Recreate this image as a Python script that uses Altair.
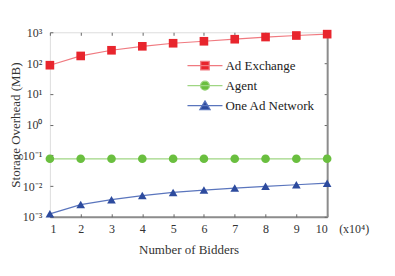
import altair as alt
import pandas as pd

bidders = [1, 2, 3, 4, 5, 6, 7, 8, 9, 10]
ad_exchange = [85, 170, 260, 350, 440, 510, 595, 700, 785, 870]
agent = [0.077] * 10
one_ad_network = [0.00125, 0.0025, 0.0036, 0.0049, 0.0062, 0.0074, 0.0086, 0.0098, 0.011, 0.0124]
series_names = ["Ad Exchange", "Agent", "One Ad Network"]
y_ticks = [1e-3, 1e-2, 1e-1, 1e0, 1e1, 1e2, 1e3]
y_tick_labels = ["10⁻³", "10⁻²", "10⁻¹", "10⁰", "10¹", "10²", "10³"]
x_unit_label = "(x10⁴)"

marker_colors = ["#e8252d", "#6abf3f", "#2d4b9e"]
line_colors = ["#f07a80", "#9fd683", "#5a75bd"]
shapes = ["square", "circle", "triangle-up"]
legend_paths = [
    "M-3.9,0H3.9M-0.95,-0.95H0.95V0.95H-0.95Z",
    "M-3.9,0H3.9M1,0A1,1,0,1,1,-1,0A1,1,0,1,1,1,0Z",
    "M-3.9,0H3.9M0,-1.05L1.15,0.9H-1.15Z",
]

rows = []
for name, vals in zip(series_names, [ad_exchange, agent, one_ad_network]):
    for b, v in zip(bidders, vals):
        rows.append({"bidders": b, "value": v, "series": name})
df = pd.DataFrame(rows)

FONT = "Liberation Serif"
W, H = 278, 185

xscale = alt.Scale(domain=[1, 10], nice=False)
yscale = alt.Scale(type="log", domain=[1e-3, 1e3], nice=False)
label_expr = "[" + ",".join("'%s'" % s for s in y_tick_labels) + "][round(log(datum.value)/LN10)+3]"

def tick_axis(orient):
    return alt.Axis(orient=orient, offset=-3, tickSize=3, ticks=True, domain=False,
                    labels=False, title=None, grid=False, tickColor="#666666", tickWidth=1,
                    values=bidders if orient in ("top", "bottom") else y_ticks)

def legend_def():
    return alt.Legend(title=None, orient="none", legendX=149, legendY=27,
                      symbolSize=81, labelOffset=14, labelFont=FONT,
                      labelFontSize=13, labelColor="#222222", rowPadding=5,
                      symbolOpacity=1, symbolStrokeWidth=1.2, padding=0)

base = alt.Chart(df)

lines = base.mark_line(strokeWidth=1.2).encode(
    x=alt.X("bidders:Q", scale=xscale,
            axis=alt.Axis(orient="bottom", values=bidders, format="d", ticks=False,
                          domainColor="#8c8c8c", domainWidth=2, labelFont=FONT, labelFontSize=12,
                          labelColor="#333333", labelPadding=7, title="Number of Bidders",
                          titleFont=FONT, titleFontSize=13, titleFontWeight="normal",
                          titleColor="#333333", titleY=33, titleBaseline="middle", grid=False)),
    y=alt.Y("value:Q", scale=yscale,
            axis=alt.Axis(orient="left", values=y_ticks, labelExpr=label_expr, ticks=False,
                          domain=False, labelFont=FONT, labelFontSize=12, labelColor="#333333",
                          labelPadding=8, title="Storage Overhead (MB)", titleFont=FONT,
                          titleFontSize=13, titleFontWeight="normal", titleColor="#333333",
                          titleX=-34, titleBaseline="middle", grid=False)),
    stroke=alt.Stroke("series:N", scale=alt.Scale(domain=series_names, range=line_colors), legend=None),
)

points = base.mark_point(filled=True, opacity=1, size=75).encode(
    x=alt.X("bidders:Q", scale=xscale, axis=tick_axis("top")),
    y=alt.Y("value:Q", scale=yscale, axis=tick_axis("right")),
    fill=alt.Fill("series:N", scale=alt.Scale(domain=series_names, range=marker_colors), legend=None),
    shape=alt.Shape("series:N", scale=alt.Scale(domain=series_names, range=shapes), legend=None),
)

ticks_bl = base.mark_line(opacity=0).encode(
    x=alt.X("bidders:Q", scale=xscale, axis=tick_axis("bottom")),
    y=alt.Y("value:Q", scale=yscale, axis=tick_axis("left")),
    detail="series:N",
)

legend_layer = base.mark_point(filled=True, size=0, strokeWidth=1.2).encode(
    x=alt.X("bidders:Q", scale=xscale, axis=None),
    y=alt.Y("value:Q", scale=yscale,
            axis=alt.Axis(orient="right", ticks=False, labels=False, title=None, grid=False,
                          domainColor="#8c8c8c", domainWidth=2)),
    fill=alt.Fill("series:N", scale=alt.Scale(domain=series_names, range=marker_colors),
                  legend=legend_def()),
    stroke=alt.Stroke("series:N", scale=alt.Scale(domain=series_names, range=line_colors),
                      legend=legend_def()),
    shape=alt.Shape("series:N", scale=alt.Scale(domain=series_names, range=legend_paths),
                    legend=legend_def()),
)

unit_text = alt.Chart(pd.DataFrame({"t": [x_unit_label]})).mark_text(
    font=FONT, fontSize=12, color="#333333", align="left", baseline="top"
).encode(x=alt.value(W + 12), y=alt.value(H + 7), text="t:N")

chart = alt.layer(lines, points, ticks_bl, legend_layer, unit_text).resolve_scale(
    stroke="independent", fill="independent", shape="independent"
).resolve_axis(x="independent", y="independent").properties(
    width=W, height=H, autosize=alt.AutoSizeParams(type="none"),
    padding={"left": 42, "top": 24, "right": 60, "bottom": 50},
).configure_view(stroke="#000000", strokeWidth=1).configure(background="white")

chart.save("out.html", embed_options={"renderer": "svg", "actions": False})
